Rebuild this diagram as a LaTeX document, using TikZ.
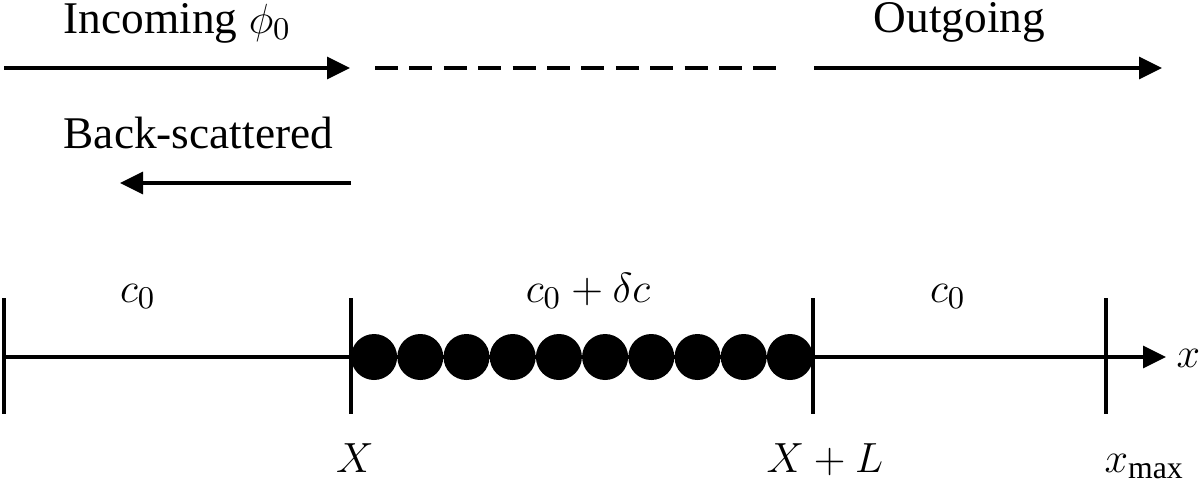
\documentclass[tikz,border=0pt]{standalone}
\usepackage{fontspec}
\setmainfont{Liberation Serif}
\usetikzlibrary{arrows.meta}

\tikzset{
    wave/.style={line width=0.95pt, -{Triangle[length=2.3mm,width=2.2mm]}},
    tick/.style={line width=0.95pt},
    bead/.style={circle, fill=black, minimum size=4.6mm, inner sep=0pt},
    lbl/.style={anchor=base, inner sep=0pt, font=\fontsize{12.9}{15}\selectfont}
}

\begin{document}
\begin{tikzpicture}[x=0.1mm, y=-0.1mm]
        \useasboundingbox (0, 0) rectangle (1200, 484);
        \pgfmathsetmacro\axisy{357};

        % waves
        \coordinate (inA) at (4, 68);
        \coordinate (inB) at (350, 68);
        \coordinate (dashA) at (375, 68);
        \coordinate (dashB) at (778, 68);
        \coordinate (outA) at (814, 68);
        \coordinate (outB) at (1162, 68);
        \coordinate (backA) at (351, 183);
        \coordinate (backB) at (120, 183);

        \draw[wave] (inA) -- (inB);
        \draw[line width=0.95pt, dash pattern=on 2.3mm off 1.14mm] (dashA) -- (dashB);
        \draw[wave] (outA) -- (outB);
        \draw[wave] (backA) -- (backB);

        \node[lbl, anchor=base west] (incoming) at (63, 33) {Incoming $\phi_0$};
        \node[lbl, anchor=base west] (outgoing) at (873, 32) {Outgoing};
        \node[lbl, anchor=base west] (back) at (63, 148) {Back-scattered};

        % axis and ticks
        \coordinate (left) at (4, \axisy);
        \coordinate (xaxis) at (1166, \axisy);
        \draw[wave] (left) -- (xaxis);
        \node[lbl, anchor=base west] (xlab) at (1176, 367) {$x$};

        \foreach \name/\pos in {t0/4, tX/351, tXL/813, tmax/1106} {
            \coordinate (\name) at (\pos, \axisy);
            \draw[tick] (\pos, 298) -- (\pos, 414);
        }

        % beads
        \foreach \i in {0, ..., 9}
            \node[bead] (bead\i) at (374.1 + \i * 46.2, \axisy) {};

        \node[lbl] (c0left) at (138, 302) {$c_0$};
        \node[lbl] (cmid) at (588, 302) {$c_0 + \delta c$};
        \node[lbl] (c0right) at (948, 302) {$c_0$};

        \node[lbl] (labX) at (355, 472) {$X$};
        \node[lbl] (labXL) at (825, 472) {$X + L$};
        \node[lbl, anchor=base west] (labmax) at (1104, 472) {$x_{\max}$};
    \end{tikzpicture}
\end{document}
